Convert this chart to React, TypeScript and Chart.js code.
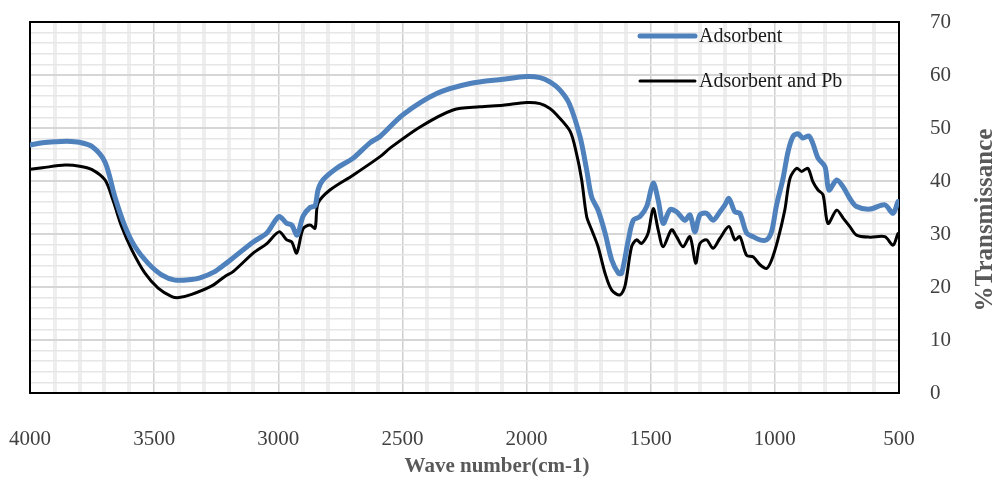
import React, { useEffect, useRef } from "react";
import { Chart, registerables } from "chart.js";

Chart.register(...registerables);

const seriesNames = ["Adsorbent", "Adsorbent and Pb"];
const xTitle = "Wave number(cm-1)";
const yTitle = "%Transmissance";

const adsWave = [4000, 3950, 3900, 3850, 3800, 3750, 3698, 3658, 3617, 3577, 3525, 3470, 3416, 3350, 3315, 3260, 3215, 3182, 3101, 3046, 2997, 2966, 2946, 2924, 2900, 2872, 2852, 2840, 2820, 2765, 2699, 2631, 2590, 2498, 2362, 2228, 2095, 2000, 1946, 1906, 1866, 1828, 1785, 1758, 1738, 1712, 1684, 1657, 1630, 1617, 1590, 1570, 1543, 1516, 1490, 1470, 1450, 1422, 1396, 1362, 1342, 1322, 1302, 1275, 1249, 1221, 1201, 1185, 1161, 1141, 1114, 1088, 1060, 1033, 1013, 993, 967, 947, 927, 907, 887, 863, 847, 826, 798, 782, 751, 725, 698, 671, 617, 557, 524, 504, 500];
const adsT = [46.8, 47.2, 47.4, 47.5, 47.3, 46.5, 43.6, 37.0, 31.4, 27.6, 24.5, 22.3, 21.3, 21.4, 21.7, 22.8, 24.3, 25.5, 28.5, 30.2, 33.3, 32.0, 31.7, 29.8, 33.4, 35.0, 35.3, 38.3, 40.2, 42.4, 44.3, 47.2, 48.4, 52.5, 56.5, 58.4, 59.2, 59.7, 59.5, 58.7, 57.2, 54.6, 48.4, 42.1, 37.0, 34.5, 30.2, 25.1, 22.6, 22.6, 28.9, 32.6, 33.3, 35.2, 39.6, 36.4, 32.0, 34.6, 34.2, 32.6, 33.6, 30.4, 33.6, 33.9, 32.6, 34.2, 35.5, 36.7, 34.2, 33.9, 30.2, 29.5, 28.9, 28.9, 30.5, 35.5, 40.5, 45.5, 48.4, 48.9, 48.1, 48.5, 47.1, 44.3, 42.7, 38.3, 40.2, 38.9, 36.7, 35.2, 34.7, 35.5, 33.9, 36.1, 36.0];

const pbWave = [4000, 3950, 3859, 3800, 3752, 3698, 3666, 3631, 3590, 3537, 3484, 3429, 3400, 3349, 3268, 3215, 3182, 3101, 3046, 2997, 2966, 2946, 2926, 2900, 2872, 2852, 2840, 2792, 2699, 2590, 2550, 2429, 2296, 2188, 2095, 2000, 1946, 1906, 1879, 1825, 1799, 1778, 1758, 1738, 1712, 1684, 1657, 1624, 1604, 1577, 1557, 1537, 1511, 1490, 1470, 1450, 1416, 1396, 1370, 1342, 1319, 1302, 1275, 1249, 1221, 1185, 1161, 1141, 1114, 1088, 1060, 1033, 1013, 988, 960, 939, 912, 892, 867, 847, 826, 806, 786, 751, 725, 698, 671, 617, 557, 524, 504, 500];
const pbT = [42.2, 42.5, 43.0, 42.8, 42.2, 40.2, 36.4, 31.4, 27.0, 22.6, 19.8, 18.2, 18.0, 18.6, 20.2, 22.0, 22.9, 26.4, 28.2, 30.4, 28.9, 28.5, 26.4, 31.0, 31.7, 31.1, 35.8, 38.3, 41.1, 44.6, 46.2, 50.2, 53.4, 54.0, 54.3, 54.8, 54.6, 53.7, 52.5, 49.4, 45.2, 40.2, 33.3, 30.8, 27.6, 22.6, 19.4, 18.5, 20.1, 27.6, 28.9, 28.2, 30.1, 34.8, 30.8, 27.6, 30.8, 29.5, 27.6, 29.5, 24.5, 28.2, 28.9, 27.3, 29.2, 31.4, 28.9, 29.5, 26.0, 25.7, 24.2, 23.5, 25.1, 28.9, 34.5, 40.5, 42.4, 41.8, 42.4, 39.9, 38.3, 37.4, 32.0, 34.5, 33.0, 31.4, 29.8, 29.4, 29.5, 27.9, 30.1, 30.0];

const xMin = 500;
const xMax = 4000;
const xMinorStep = 100;
const xMajorStep = 500;
const yMin = 0;
const yMax = 70;
const yMinorStep = 2;
const yMajorStep = 10;

const colors = ["#4F81BD", "#000000"];
const widths = [5, 3];

const decorPlugin = {
  id: "decor",
  beforeDatasetsDraw(chart: any) {
    const { ctx, chartArea: a } = chart;
    ctx.save();
    ctx.strokeStyle = "#000";
    ctx.lineWidth = 2;
    ctx.strokeRect(a.left, a.top, a.right - a.left, a.bottom - a.top);
    ctx.restore();
  },
  afterDraw(chart: any) {
    const { ctx } = chart;
    ctx.save();
    const lx0 = 640, lx1 = 695;
    const ly = [36, 81];
    ctx.font = "20px 'Liberation Serif', serif";
    ctx.textBaseline = "middle";
    ctx.textAlign = "left";
    for (let i = 0; i < 2; i++) {
      ctx.strokeStyle = colors[i];
      ctx.lineWidth = widths[i];
      ctx.lineCap = "round";
      ctx.beginPath();
      ctx.moveTo(lx0, ly[i]);
      ctx.lineTo(lx1, ly[i]);
      ctx.stroke();
      ctx.fillStyle = "#1a1a1a";
      ctx.fillText(seriesNames[i], lx1 + 4, ly[i] + 1);
    }
    ctx.fillStyle = "#595959";
    ctx.font = "bold 21px 'Liberation Serif', serif";
    ctx.textAlign = "center";
    ctx.fillText(xTitle, 497, 467);
    ctx.font = "bold 25px 'Liberation Serif', serif";
    ctx.translate(986, 220);
    ctx.rotate(-Math.PI / 2);
    ctx.fillText(yTitle, 0, 0);
    ctx.restore();
  },
};

export default function App() {
  const ref = useRef<HTMLCanvasElement | null>(null);
  useEffect(() => {
    if (!ref.current) return;
    const chart = new Chart(ref.current, {
      type: "line",
      data: {
        datasets: [
          {
            label: seriesNames[0],
            data: adsWave.map((w, i) => ({ x: w, y: adsT[i] })),
            borderColor: colors[0],
            borderWidth: widths[0],
            pointRadius: 0,
            tension: 0.3,
            borderCapStyle: "round",
            borderJoinStyle: "round",
          },
          {
            label: seriesNames[1],
            data: pbWave.map((w, i) => ({ x: w, y: pbT[i] })),
            borderColor: colors[1],
            borderWidth: widths[1],
            pointRadius: 0,
            tension: 0.3,
            borderCapStyle: "round",
            borderJoinStyle: "round",
          },
        ],
      },
      options: {
        animation: false,
        responsive: false,
        maintainAspectRatio: false,
        layout: { padding: { left: 30, top: 22, right: 0, bottom: 0 } },
        plugins: { legend: { display: false }, tooltip: { enabled: false } },
        scales: {
          x: {
            type: "linear",
            reverse: true,
            min: xMin,
            max: xMax,
            afterFit: (s: any) => {
              s.height = 85;
              s.paddingLeft = 0;
              s.paddingRight = 0;
            },
            border: { display: false },
            grid: {
              drawTicks: false,
              color: (c: any) => (c.tick && Math.round(c.tick.value) % xMajorStep === 0 ? "#d0d0d0" : "#eeeeee"),
              lineWidth: (c: any) => (c.tick && Math.round(c.tick.value) % xMajorStep === 0 ? 1.5 : 4),
            },
            ticks: {
              stepSize: xMinorStep,
              maxTicksLimit: 100,
              autoSkip: false,
              maxRotation: 0,
              padding: 34,
              color: "#404040",
              font: { family: "'Liberation Serif', serif", size: 21 },
              callback: (v: any) => (Math.round(Number(v)) % xMajorStep === 0 ? String(v) : ""),
            },
          },
          y: {
            type: "linear",
            position: "right",
            min: yMin,
            max: yMax,
            afterFit: (s: any) => {
              s.width = 99;
              s.paddingTop = 0;
              s.paddingBottom = 0;
            },
            border: { display: false },
            grid: {
              drawTicks: false,
              color: (c: any) => (c.tick && Math.round(c.tick.value) % yMajorStep === 0 ? "#d6d6d6" : "#e6e6e6"),
              lineWidth: (c: any) => (c.tick && Math.round(c.tick.value) % yMajorStep === 0 ? 2 : 1.5),
            },
            ticks: {
              stepSize: yMinorStep,
              maxTicksLimit: 100,
              autoSkip: false,
              padding: 31,
              color: "#404040",
              font: { family: "'Liberation Serif', serif", size: 21 },
              callback: (v: any) => (Math.round(Number(v)) % yMajorStep === 0 ? String(v) : ""),
            },
          },
        },
      },
      plugins: [decorPlugin],
    });
    return () => chart.destroy();
  }, []);
  return (
    <div style={{ position: "fixed", left: 0, top: 0, width: 998, height: 478, background: "#fff" }}>
      <canvas ref={ref} width={998} height={478} style={{ width: 998, height: 478 }} />
    </div>
  );
}
